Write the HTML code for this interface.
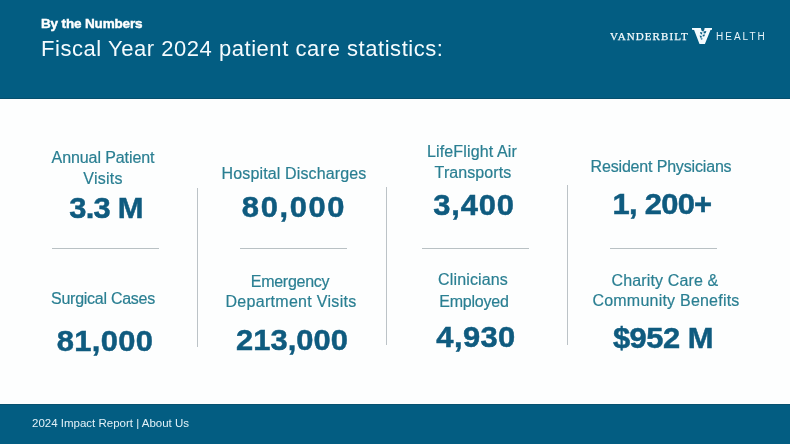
<!DOCTYPE html>
<html>
<head>
<meta charset="utf-8">
<style>
html,body{margin:0;padding:0;}
body{width:790px;height:444px;overflow:hidden;position:relative;background:#fdfefe;font-family:"Liberation Sans",sans-serif;}
.hdr{position:absolute;left:0;top:0;width:790px;height:99px;background:#035d82;box-shadow:inset 0 -1px #064f6d;}
.ftr{position:absolute;left:0;top:404px;width:790px;height:40px;background:#035d82;box-shadow:inset 0 1px #07516f;}
.t{position:absolute;white-space:nowrap;line-height:1;will-change:transform;}
.kicker{left:41px;top:16.5px;font-size:13.5px;font-weight:bold;color:#fff;-webkit-text-stroke:0.45px #fff;letter-spacing:-0.15px;}
.title{left:41px;top:37.8px;font-size:22px;letter-spacing:0.54px;color:#f4fbfe;}
.foot{left:32px;top:418px;font-size:11.5px;color:#e3f1f8;}
.lab{font-size:16px;color:#2a7f92;-webkit-text-stroke:0.2px #2a7f92;text-align:center;width:200px;line-height:21px;}
.num{font-size:30px;font-weight:bold;color:#0f5b7f;-webkit-text-stroke:0.5px #0f5b7f;text-align:center;width:200px;}
.hl{position:absolute;height:1px;background:#b9c1c4;top:248px;}
.vl{position:absolute;width:1px;background:#bcc3c7;}
.vand{left:610px;top:31px;font-family:"Liberation Serif",serif;font-size:11px;letter-spacing:1.1px;color:#f2f9fc;-webkit-text-stroke:0.25px #f2f9fc;}
.health{left:716px;top:31.5px;font-size:10px;letter-spacing:2px;color:#e8f4f9;}
</style>
</head>
<body>
<div class="hdr"></div>
<div class="t kicker">By the Numbers</div>
<div class="t title">Fiscal Year 2024 patient care statistics:</div>

<div class="t vand">VANDERBILT</div>
<svg style="position:absolute;left:692px;top:27px" width="20" height="18" viewBox="0 0 20 18">
<path d="M0 1 H20 V2.7 L18.5 3.1 L13.1 16.6 Q12.9 17.1 12.4 17.1 H8 Q7.5 17.1 7.3 16.6 L2.1 3.1 L0 2.7 Z" fill="#f4fbfe"/>
<g fill="#0a5d82">
<path d="M8.8 1 H12.6 L12.2 3.2 L11 4.4 L9.6 3.8 Z"/>
<path d="M8.0 5.0 L10.4 5.6 L9.9 7.4 L8.6 7.0 Z"/>
<path d="M11.4 4.6 L14.4 4.0 L13.6 6.2 L11.8 6.4 Z"/>
<path d="M7.6 8.4 L9.8 9.0 L9.4 11.0 L8.2 10.4 Z"/>
<path d="M10.6 7.8 L13.0 7.4 L12.4 9.2 L10.8 9.4 Z"/>
<path d="M8.6 11.2 L10.6 11.6 L10.2 12.6 L9 12.4 Z"/>
</g>
</svg>
<div class="t health">HEALTH</div>

<div class="hl" style="left:52px;width:107px"></div>
<div class="hl" style="left:240px;width:107px"></div>
<div class="hl" style="left:422px;width:107px"></div>
<div class="hl" style="left:610px;width:107px"></div>
<div class="vl" style="left:197px;top:188px;height:159px"></div>
<div class="vl" style="left:386px;top:187px;height:158px"></div>
<div class="vl" style="left:567px;top:185px;height:160px"></div>

<div class="t lab" style="left:2.80px;top:147.20px;letter-spacing:-0.092px">Annual Patient</div>
<div class="t lab" style="left:3.35px;top:168.20px;letter-spacing:0.240px">Visits</div>
<div class="t lab" style="left:2.70px;top:287.60px;letter-spacing:-0.262px">Surgical Cases</div>
<div class="t lab" style="left:194.20px;top:162.60px;letter-spacing:0.133px">Hospital Discharges</div>
<div class="t lab" style="left:189.60px;top:270.50px;letter-spacing:-0.275px">Emergency</div>
<div class="t lab" style="left:191.35px;top:291.00px;letter-spacing:0.300px">Department Visits</div>
<div class="t lab" style="left:372.15px;top:140.90px;letter-spacing:0.138px">LifeFlight Air</div>
<div class="t lab" style="left:373.20px;top:161.60px;letter-spacing:0.089px">Transports</div>
<div class="t lab" style="left:373.00px;top:269.40px;letter-spacing:0.133px">Clinicians</div>
<div class="t lab" style="left:373.90px;top:290.60px;letter-spacing:-0.200px">Employed</div>
<div class="t lab" style="left:560.85px;top:156.40px;letter-spacing:-0.167px">Resident Physicians</div>
<div class="t lab" style="left:565.25px;top:270.10px;letter-spacing:0.138px">Charity Care &amp;</div>
<div class="t lab" style="left:566.15px;top:290.30px;letter-spacing:0.224px">Community Benefits</div>
<div class="t num" style="left:5.80px;top:192.84px;transform:scaleX(1.0300);letter-spacing:-0.777px">3.3 M</div>
<div class="t num" style="left:5.05px;top:325.74px;transform:scaleX(1.0300);letter-spacing:0.311px">81,000</div>
<div class="t num" style="left:194.20px;top:192.24px;transform:scaleX(1.0300);letter-spacing:1.592px">80,000</div>
<div class="t num" style="left:191.70px;top:325.14px;transform:scaleX(1.0300);letter-spacing:0.065px">213,000</div>
<div class="t num" style="left:374.40px;top:189.64px;transform:scaleX(1.0300);letter-spacing:0.825px">3,400</div>
<div class="t num" style="left:376.15px;top:322.44px;transform:scaleX(1.0300);letter-spacing:0.388px">4,930</div>
<div class="t num" style="left:561.65px;top:189.34px;transform:scaleX(1.0300);letter-spacing:-0.712px">1, 200+</div>
<div class="t num" style="left:563.45px;top:322.64px;transform:scaleX(1.0300);letter-spacing:-0.466px">$952 M</div>

<div class="ftr"></div>
<div class="t foot">2024 Impact Report | About Us</div>
</body>
</html>
